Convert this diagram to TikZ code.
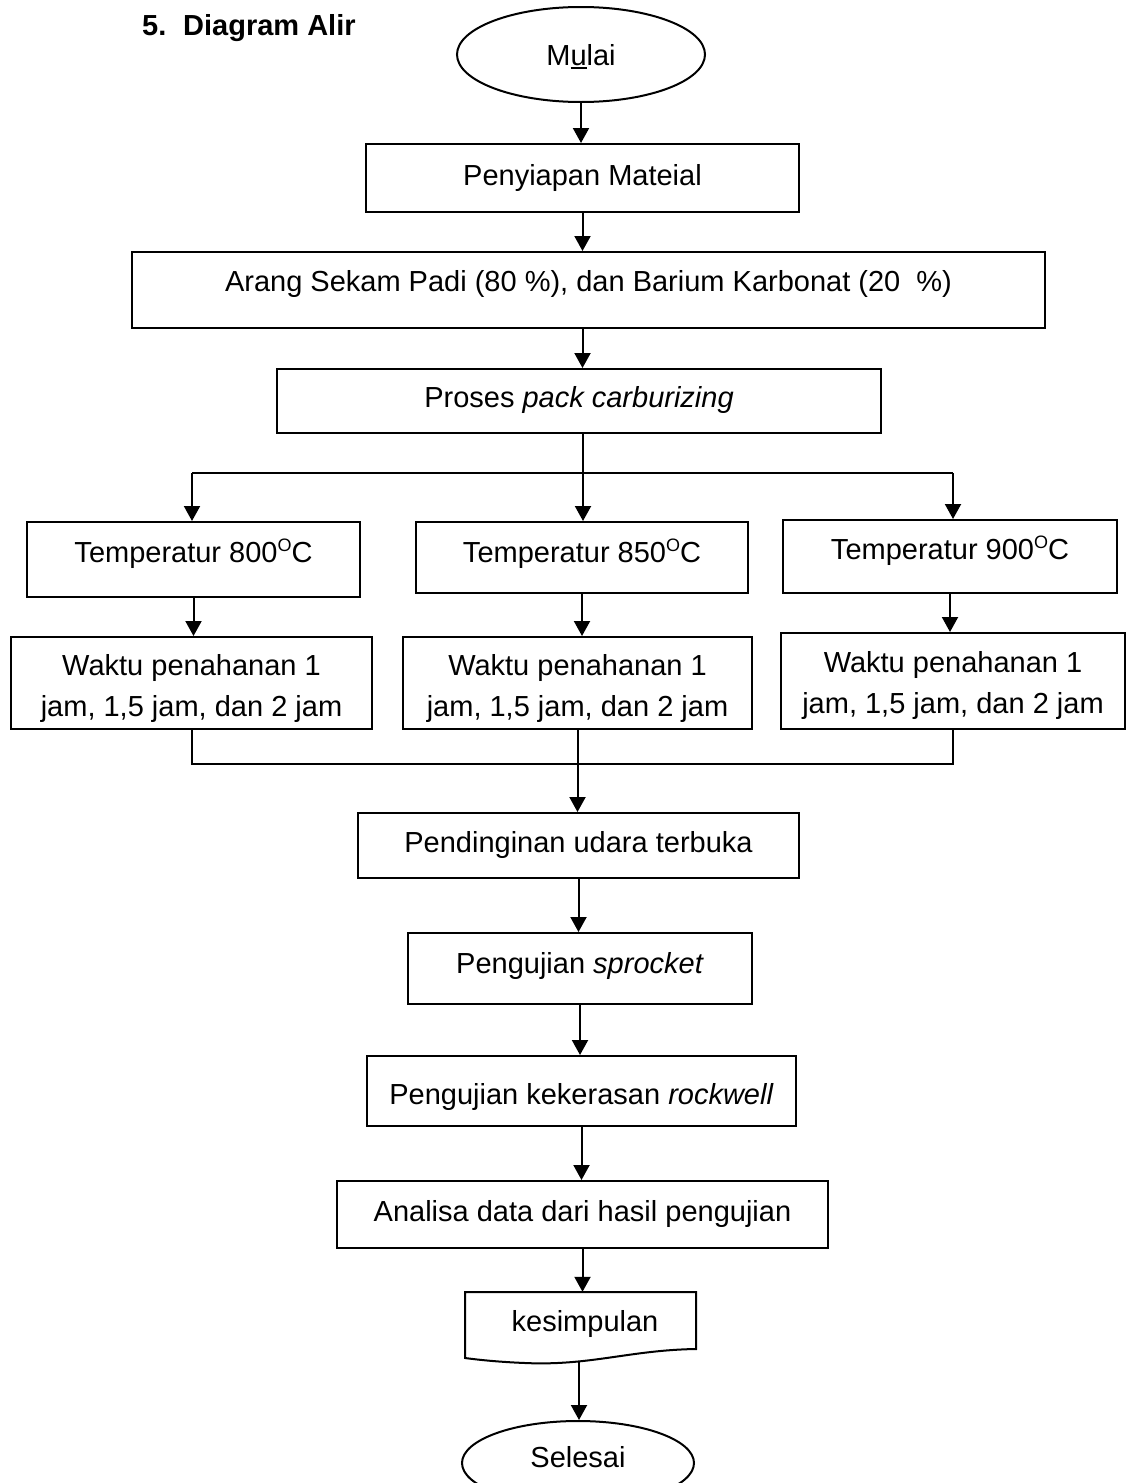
\documentclass[tikz,border=0pt]{standalone}
\usepackage{fontspec}
\setmainfont{Liberation Sans}
\usetikzlibrary{arrows.meta,shapes.geometric}
\newcommand\myul[1]{\setbox0\hbox{#1}\rlap{\rule[-4pt]{\wd0}{2pt}}#1}
\newcommand\degO{\raisebox{11pt}{\fontsize{18pt}{18pt}\selectfont O}}
\begin{document}
\begin{tikzpicture}[x=1pt,y=-1pt,
  every node/.style={font=\fontsize{29pt}{41pt}\selectfont, inner sep=0pt},
  ln/.style={line width=2pt},
  arr/.style={line width=2pt,-{Triangle[length=15pt,width=16pt]}},
  box/.style={draw,line width=2pt,rectangle,text height=21pt},
  oval/.style={draw,line width=2pt,ellipse,text height=21pt},
  ttl/.style={font=\fontsize{29pt}{41pt}\selectfont\bfseries,anchor=base west}]
\useasboundingbox (0,0) rectangle (1128,1483);
\fill[white] (0,0) rectangle (1128,1483);
\clip (0,0) rectangle (1128,1483);

% title
\node[ttl] (num) at (142,35.4) {5.};
\node[ttl] (title) at (183,35.4) {Diagram Alir};

% main nodes
\node[oval,minimum width=248pt,minimum height=95pt,text depth=0pt] (mulai) at (581,54.5) {M\myul{u}lai};
\node[box,minimum width=433pt,minimum height=68pt,text depth=6pt] (siap) at (582.5,178) {Penyiapan Mateial};
\node[box,minimum width=913pt,minimum height=76pt,text depth=18pt] (arang) at (588.5,290) {Arang Sekam Padi (80 \%), dan Barium Karbonat (20\ \ \%)};
\node[box,minimum width=604pt,minimum height=64pt,text depth=8pt] (proses) at (579,401) {Proses \textit{pack carburizing}};

\node[box,minimum width=333pt,minimum height=75pt,text depth=16pt] (t1) at (193.5,559.5) {Temperatur 800\degO C};
\node[box,minimum width=332pt,minimum height=71pt,text depth=12pt] (t2) at (582,557.5) {Temperatur 850\degO C};
\node[box,minimum width=334pt,minimum height=73pt,text depth=16pt] (t3) at (950,556.5) {Temperatur 900\degO C};

\node[box,minimum width=361pt,minimum height=92pt,text depth=36pt] (w1) at (191.5,683) {\begin{tabular}[t]{@{}c@{}}Waktu penahanan 1\\jam, 1,5 jam, dan 2 jam\end{tabular}};
\node[box,minimum width=349pt,minimum height=92pt,text depth=36pt] (w2) at (577.5,683) {\begin{tabular}[t]{@{}c@{}}Waktu penahanan 1\\jam, 1,5 jam, dan 2 jam\end{tabular}};
\node[box,minimum width=344pt,minimum height=96pt,text depth=38pt] (w3) at (953,681) {\begin{tabular}[t]{@{}c@{}}Waktu penahanan 1\\jam, 1,5 jam, dan 2 jam\end{tabular}};

\node[box,minimum width=441pt,minimum height=65pt,text depth=8pt] (pend) at (578.5,845.5) {Pendinginan udara terbuka};
\node[box,minimum width=344pt,minimum height=71pt,text depth=12pt] (spr) at (580,968.5) {Pengujian \textit{sprocket}};
\node[box,minimum width=429pt,minimum height=70pt,text height=26pt,text depth=0pt] (rock) at (581.5,1091) {Pengujian kekerasan \textit{rockwell}};
\node[box,minimum width=491pt,minimum height=67pt,text depth=7pt] (anal) at (582.5,1214.5) {Analisa data dari hasil pengujian};
\node[minimum width=231pt,minimum height=71pt,text height=21pt,text depth=13pt] (kes) at (585,1327.5) {kesimpulan};
\node[oval,minimum width=232pt,minimum height=84pt,text depth=12pt] (sel) at (578,1463) {Selesai};

% document shape outline
\draw[ln,line join=miter] (465,1292) -- (696,1292) -- (696,1349)
  .. controls (630,1350) and (590,1366) .. (525,1363)
  .. controls (500,1362) and (480,1360) .. (465,1358) -- cycle;

% helper coordinates
\coordinate (bl) at (192,473);
\coordinate (bc) at (583,473);
\coordinate (brr) at (953,473);
\coordinate (mg) at (579,764);
\coordinate (kesbot) at (579,1362);

% connectors
\draw[arr] (mulai.south) -- (mulai.south |- siap.north);
\draw[arr] (siap.south) -- (siap.south |- arang.north);
\draw[arr] (siap.south |- arang.south) -- (siap.south |- proses.north);
\draw[ln] (proses.south -| bc) -- (bc);
\draw[ln] (bl) -- (brr);
\draw[arr] (bl) -- (bl |- t1.north);
\draw[arr] (bc) -- (bc |- t2.north);
\draw[arr] (brr) -- (brr |- t3.north);
\draw[arr] (t1.south) -- (t1.south |- w1.north);
\draw[arr] (t2.south) -- (t2.south |- w2.north);
\draw[arr] (t3.south) -- (t3.south |- w3.north);
\draw[ln] (w1.south) -- (w1.south |- mg) -- (w3.south |- mg) -- (w3.south);
\draw[ln] (w2.south) -- (w2.south |- mg);
\draw[arr] (w2.south |- mg) -- (w2.south |- pend.north);
\draw[arr] (pend.south) -- (pend.south |- spr.north);
\draw[arr] (spr.south) -- (spr.south |- rock.north);
\draw[arr] (rock.south) -- (rock.south |- anal.north);
\draw[arr] (anal.south) -- (anal.south |- kes.north);
\draw[arr] (kesbot) -- (kesbot |- sel.north);
\end{tikzpicture}
\end{document}
